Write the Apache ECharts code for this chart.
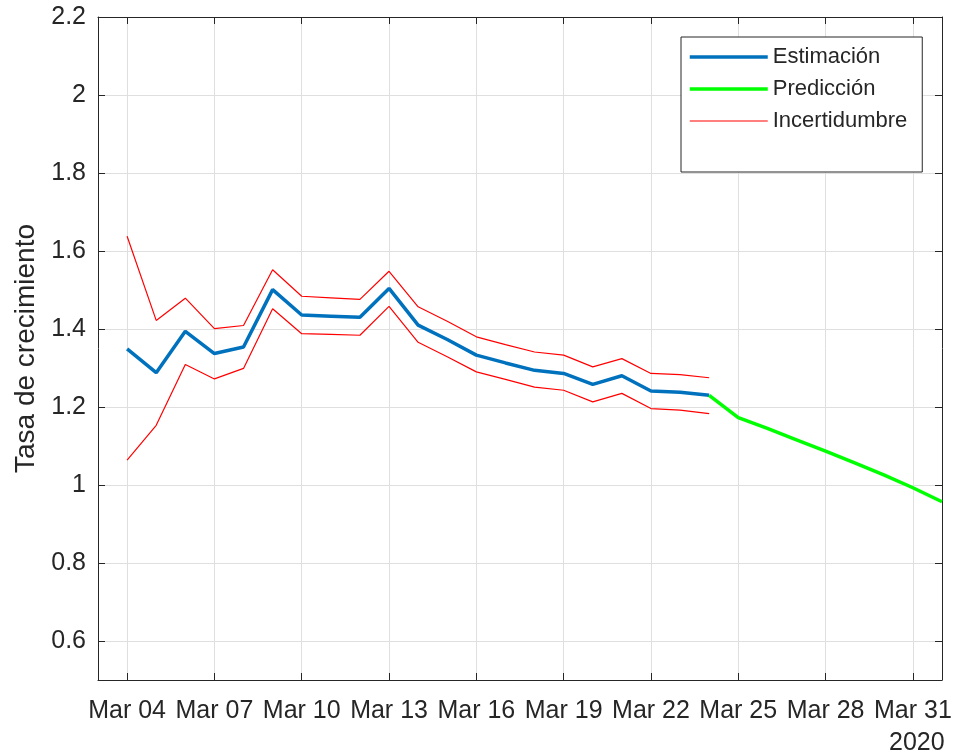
<!DOCTYPE html>
<html>
<head>
<meta charset="utf-8">
<script src="https://cdn.jsdelivr.net/npm/echarts@6/dist/echarts.min.js"></script>
<style>
  html, body { margin: 0; padding: 0; background: #fff; }
  #chart { width: 955px; height: 755px; }
</style>
</head>
<body>
<div id="chart"></div>
<script>
// Daily axis, Mar 03 – Apr 01 2020
const days = ['Mar 03','Mar 04','Mar 05','Mar 06','Mar 07','Mar 08','Mar 09','Mar 10','Mar 11','Mar 12',
  'Mar 13','Mar 14','Mar 15','Mar 16','Mar 17','Mar 18','Mar 19','Mar 20','Mar 21','Mar 22',
  'Mar 23','Mar 24','Mar 25','Mar 26','Mar 27','Mar 28','Mar 29','Mar 30','Mar 31','Apr 01'];
const tickLabels = ['Mar 04','Mar 07','Mar 10','Mar 13','Mar 16','Mar 19','Mar 22','Mar 25','Mar 28','Mar 31'];
const yTicks = [0.6, 0.8, 1, 1.2, 1.4, 1.6, 1.8, 2, 2.2];
const yearLabel = '2020';

// Estimated growth rate and its uncertainty band, Mar 04 – Mar 24
const estDays = ['Mar 04','Mar 05','Mar 06','Mar 07','Mar 08','Mar 09','Mar 10','Mar 11','Mar 12','Mar 13',
  'Mar 14','Mar 15','Mar 16','Mar 17','Mar 18','Mar 19','Mar 20','Mar 21','Mar 22','Mar 23','Mar 24'];
const estimacion = [1.349, 1.288, 1.394, 1.337, 1.354, 1.501, 1.436, 1.433, 1.430, 1.504,
  1.410, 1.373, 1.333, 1.313, 1.294, 1.286, 1.258, 1.280, 1.241, 1.238, 1.230];
const superior = [1.638, 1.422, 1.479, 1.401, 1.409, 1.552, 1.484, 1.480, 1.476, 1.548,
  1.457, 1.420, 1.380, 1.360, 1.341, 1.333, 1.303, 1.324, 1.286, 1.283, 1.275];
const inferior = [1.064, 1.153, 1.309, 1.272, 1.299, 1.452, 1.388, 1.386, 1.384, 1.458,
  1.366, 1.329, 1.290, 1.271, 1.251, 1.243, 1.213, 1.235, 1.196, 1.192, 1.183];

// Forecast, Mar 24 – Apr 01
const predDays = ['Mar 24','Mar 25','Mar 26','Mar 27','Mar 28','Mar 29','Mar 30','Mar 31','Apr 01'];
const prediccion = [1.230, 1.173, 1.145, 1.116, 1.087, 1.057, 1.026, 0.993, 0.957];

const FONT = '"Liberation Sans", Arial, Helvetica, sans-serif';
const AX = '#262626';
const GRID = '#dfdfdf';
const BLUE = '#0072BD';
const GREEN = '#00FF00';
const RED = '#FF0000';

const pairs = (xs, ys) => xs.map((d, i) => [d, ys[i]]);
const onTick = (idx, val) => tickLabels.indexOf(days[idx] !== undefined ? days[idx] : val) >= 0;

const chart = echarts.init(document.getElementById('chart'), null, { renderer: 'canvas' });

const xBase = {
  type: 'category',
  data: days,
  boundaryGap: false,
  axisLine: { show: true, onZero: false, lineStyle: { color: AX, width: 1 } },
  axisTick: { show: true, inside: true, length: 7, interval: onTick, lineStyle: { color: AX } },
};
const yBase = {
  type: 'value',
  min: 0.5,
  max: 2.2,
  axisLine: { show: true, onZero: false, lineStyle: { color: AX, width: 1 } },
  axisTick: { show: true, inside: true, length: 7, customValues: yTicks, lineStyle: { color: AX } },
};

chart.setOption({
  animation: false,
  backgroundColor: '#fff',
  textStyle: { fontFamily: FONT },
  grid: { left: 98, right: 13, top: 17, bottom: 75, containLabel: false },
  xAxis: [
    Object.assign({}, xBase, {
      position: 'bottom',
      axisLabel: {
        interval: onTick, color: AX, fontSize: 25, fontFamily: FONT, margin: 19
      },
      splitLine: { show: true, interval: onTick, lineStyle: { color: GRID, width: 1 } }
    }),
    Object.assign({}, xBase, {
      position: 'top',
      axisLabel: { show: false },
      splitLine: { show: false }
    })
  ],
  yAxis: [
    Object.assign({}, yBase, {
      position: 'left',
      name: 'Tasa de crecimiento',
      nameLocation: 'middle',
      nameGap: 50,
      nameTextStyle: { color: AX, fontSize: 28, fontFamily: FONT },
      axisLabel: {
        customValues: yTicks, color: AX, fontSize: 25, fontFamily: FONT, margin: 12,
        formatter: v => String(Math.round(v * 10) / 10)
      },
      splitLine: { show: true, lineStyle: { color: GRID, width: 1 } }
    }),
    Object.assign({}, yBase, {
      position: 'right',
      axisLabel: { show: false },
      splitLine: { show: false }
    })
  ],
  legend: {
    left: 681,
    top: 37,
    orient: 'vertical',
    data: [
      { name: 'Estimación', lineStyle: { color: BLUE, width: 3.5 } },
      { name: 'Predicción', lineStyle: { color: GREEN, width: 3.5 } },
      { name: 'Incertidumbre', lineStyle: { color: RED, width: 1.2 } }
    ],
    itemStyle: { opacity: 0 },
    itemWidth: 78,
    itemHeight: 14,
    itemGap: 6,
    padding: [7, 15, 38, 7],
    borderColor: AX,
    borderWidth: 1,
    backgroundColor: '#fff',
    textStyle: { color: AX, fontSize: 22, lineHeight: 26, fontFamily: FONT }
  },
  graphic: [{
    type: 'text',
    left: 889,
    top: 731,
    style: { text: yearLabel, fill: AX, font: '25px ' + FONT }
  }],
  series: [
    {
      name: 'Estimación', type: 'line', symbol: 'none',
      data: pairs(estDays, estimacion),
      lineStyle: { color: BLUE, width: 3.5 }, itemStyle: { color: BLUE }, z: 3
    },
    {
      name: 'Predicción', type: 'line', symbol: 'none',
      data: pairs(predDays, prediccion),
      lineStyle: { color: GREEN, width: 3.5 }, itemStyle: { color: GREEN }, z: 3
    },
    {
      name: 'Incertidumbre', type: 'line', symbol: 'none',
      data: pairs(estDays, superior),
      lineStyle: { color: RED, width: 1.2 }, itemStyle: { color: RED }, z: 2
    },
    {
      name: 'Incertidumbre', type: 'line', symbol: 'none',
      data: pairs(estDays, inferior),
      lineStyle: { color: RED, width: 1.2 }, itemStyle: { color: RED }, z: 2
    }
  ]
});
</script>
</body>
</html>
